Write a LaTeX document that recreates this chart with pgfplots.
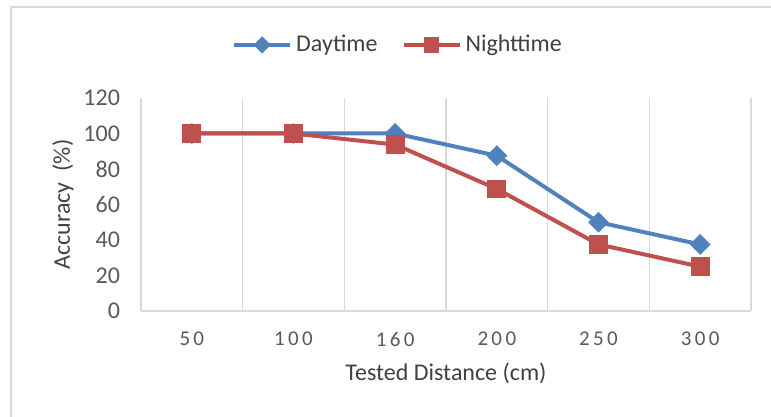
\documentclass[border=0pt]{standalone}
\usepackage{pgfplots}
\pgfplotsset{compat=1.18}
\usepackage{fontspec}
\setmainfont{Carlito}
\definecolor{dayblue}{HTML}{4F81BD}
\definecolor{nightred}{HTML}{C0504D}
\definecolor{gridgray}{HTML}{D9D9D9}
\definecolor{ticktext}{HTML}{595959}
\definecolor{labeltext}{HTML}{404040}
\begin{document}
\begin{tikzpicture}
\useasboundingbox (0,0) rectangle (385.5pt,208.5pt);
\draw[gridgray, line width=0.75pt] (5.5pt,0pt) -- (5.5pt,205pt) -- (385.5pt,205pt);
\begin{axis}[
  at={(70.5pt,53pt)}, anchor=south west,
  scale only axis,
  width=305pt, height=106.5pt,
  xmin=0.5, xmax=6.5,
  ymin=0, ymax=120,
  xtick={1,2,3,4,5,6},
  xticklabels={50,100,160,200,250,300},
  minor xtick={0.5,1.5,2.5,3.5,4.5,5.5,6.5},
  ytick={0,20,40,60,80,100,120},
  major tick length=0pt, minor tick length=0pt,
  minor x grid style={gridgray, line width=0.75pt},
  xminorgrids,
  axis x line=bottom,
  axis y line=left,
  x axis line style={-, gridgray, line width=0.75pt},
  y axis line style={draw=none},
  tick label style={font=\fontsize{12}{14}\selectfont, text=ticktext},
  xticklabel style={yshift=-7pt, font=\fontsize{10.5}{12}\selectfont\addfontfeatures{LetterSpace=16}},
  yticklabel style={xshift=-7pt},
  /pgf/number format/assume math mode=true,
  xlabel={Tested Distance (cm)},
  ylabel={Accuracy\ \ (\%)},
  label style={font=\fontsize{12}{14}\selectfont, text=labeltext},
  xlabel style={at={(rel axis cs:0.5,-0.291)}, anchor=center},
  ylabel style={at={(rel axis cs:-0.128,0.5)}, anchor=center, rotate=0},
  legend style={at={(rel axis cs:0.423,1.249)}, anchor=center, draw=none,
    font=\fontsize{12}{14}\selectfont, text=labeltext,
    legend columns=2, /tikz/every even column/.append style={column sep=10pt}},
  legend image code/.code={%
    \draw[#1, mark repeat=2, mark phase=2, /tikz/every mark/.append style={scale=0.75}]
      plot coordinates {(0pt,0pt) (14pt,0pt) (28pt,0pt)};},
]
\addplot[dayblue, line width=2pt, mark=square*, mark size=2.7pt,
  mark options={rotate=45, solid}] coordinates {
  (1,100) (2,100) (3,100) (4,87.5) (5,50) (6,37.5)
};
\addplot[nightred, line width=2pt, mark=square*, mark size=3.7pt,
  mark options={solid}] coordinates {
  (1,100) (2,100) (3,93.75) (4,68.75) (5,37.5) (6,25)
};
\legend{Daytime,Nighttime}
\end{axis}
\end{tikzpicture}
\end{document}
